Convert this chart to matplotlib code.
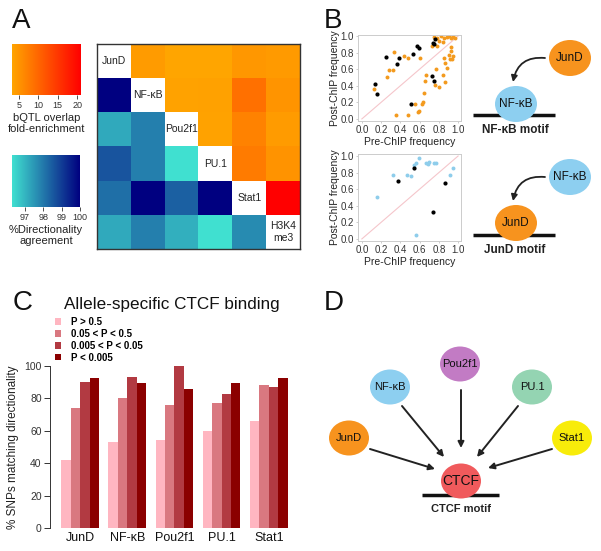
import matplotlib
matplotlib.use('Agg')
import matplotlib.pyplot as plt
import numpy as np
from matplotlib.colors import LinearSegmentedColormap
from matplotlib.patches import Ellipse, FancyArrowPatch

plt.rcParams['font.family'] = ['Liberation Sans', 'DejaVu Sans']

# ---------------- data ----------------
factors = ['JunD', 'NF-κB', 'Pou2f1', 'PU.1', 'Stat1', 'H3K4\nme3']
nan = np.nan
# upper triangle: bQTL overlap fold-enrichment
fold_enrichment = [
    [nan, 4.2, 3.0, 3.2, 4.7, 4.4],
    [nan, nan, 3.5, 3.6, 8.9, 5.0],
    [nan, nan, nan, 3.5, 7.0, 4.2],
    [nan, nan, nan, nan, 7.7, 5.1],
    [nan, nan, nan, nan, nan, 21.0],
    [nan, nan, nan, nan, nan, nan],
]
# lower triangle: % directionality agreement
directionality = [
    [nan, nan, nan, nan, nan, nan],
    [100.0, nan, nan, nan, nan, nan],
    [97.2, 97.9, nan, nan, nan, nan],
    [98.6, 97.9, 96.3, nan, nan, nan],
    [98.15, 100.0, 98.4, 100.0, nan, nan],
    [97.2, 97.9, 97.1, 96.3, 97.7, nan],
]
fold_ticks = [5, 10, 15, 20]
dir_ticks = [97, 98, 99, 100]

# Panel B top: JunD bQTLs in NF-kB motifs (pre vs post ChIP)
jund_pre = [0.75, 0.78, 0.82, 0.85, 0.88, 0.91, 0.93, 0.95, 0.97, 0.80, 0.84, 0.73, 0.78,
            0.93, 0.93, 0.91, 0.95, 0.92, 0.94, 0.85, 0.86,
            0.67, 0.66, 0.77, 0.84, 0.86, 0.80, 0.76, 0.88,
            0.65, 0.64, 0.63, 0.55, 0.59, 0.58, 0.48, 0.35,
            0.33, 0.44, 0.48, 0.60, 0.28, 0.32, 0.26, 0.125]
jund_post = [0.99, 0.98, 1.0, 0.97, 0.99, 1.0, 0.98, 0.99, 0.97, 0.94, 0.93, 0.88, 0.88,
             0.87, 0.82, 0.77, 0.76, 0.72, 0.72, 0.73, 0.67,
             0.53, 0.46, 0.60, 0.53, 0.45, 0.39, 0.41, 0.61,
             0.31, 0.21, 0.18, 0.18, 0.10, 0.08, 0.05, 0.05,
             0.81, 0.76, 0.74, 0.74, 0.59, 0.59, 0.51, 0.36]
jund_sig_pre = [0.135, 0.16, 0.25, 0.37, 0.39, 0.53, 0.57, 0.59, 0.51, 0.74, 0.75, 0.76, 0.73, 0.75]
jund_sig_post = [0.42, 0.30, 0.75, 0.66, 0.73, 0.78, 0.88, 0.86, 0.18, 0.92, 0.90, 0.96, 0.52, 0.46]

# Panel B bottom: NF-kB bQTLs in JunD motifs
nfkb_pre = [0.16, 0.32, 0.47, 0.51, 0.56, 0.54, 0.59, 0.67, 0.69, 0.70, 0.75, 0.77, 0.92, 0.95, 0.56]
nfkb_post = [0.51, 0.77, 0.77, 0.76, 0.91, 0.89, 0.98, 0.92, 0.90, 0.93, 0.92, 0.92, 0.77, 0.85, 0.05]
nfkb_sig_pre = [0.375, 0.545, 0.865, 0.74]
nfkb_sig_post = [0.70, 0.86, 0.68, 0.32]
freq_ticks = [0.0, 0.2, 0.4, 0.6, 0.8, 1.0]

# Panel C
ctcf_factors = ['JunD', 'NF-κB', 'Pou2f1', 'PU.1', 'Stat1']
p_bins = ['P > 0.5', '0.05 < P < 0.5', '0.005 < P < 0.05', 'P < 0.005']
pct_matching = [
    [42.2, 53.3, 54.1, 60.0, 66.1],   # P > 0.5
    [73.9, 80.4, 75.9, 76.9, 88.2],   # 0.05 < P < 0.5
    [90.0, 93.3, 100.0, 82.7, 87.1],  # 0.005 < P < 0.05
    [92.7, 89.6, 86.1, 89.2, 92.7],   # P < 0.005
]
bin_colors = ['#FFB6C1', '#D97880', '#B23A42', '#8B0000']
pct_ticks = [0, 20, 40, 60, 80, 100]

# Panel D
d_factors = ['JunD', 'NF-κB', 'Pou2f1', 'PU.1', 'Stat1']
d_colors = ['#F7931E', '#8DCFF0', '#C27BC4', '#94D4B2', '#F8EC0A']

# ---------------- figure ----------------
W, H = 601, 551
fig = plt.figure(figsize=(W / 100, H / 100), dpi=100)


def rect(x0, y0, x1, y1):
    return [x0 / W, 1 - y1 / H, (x1 - x0) / W, (y1 - y0) / H]


orange_cmap = LinearSegmentedColormap.from_list('orng', ['#FFA500', '#FF0000'])
blue_cmap = LinearSegmentedColormap.from_list('blu', ['#40E0D0', '#000080'])
FV = (3.2, 21.0)
DV = (96.3, 100.0)

# ---- Panel A heatmap
axh = fig.add_axes(rect(97, 44, 300, 249))
fe = np.ma.masked_invalid(np.array(fold_enrichment))
di = np.ma.masked_invalid(np.array(directionality))
axh.imshow(fe, cmap=orange_cmap, vmin=FV[0], vmax=FV[1], aspect='auto', interpolation='nearest')
axh.imshow(di, cmap=blue_cmap, vmin=DV[0], vmax=DV[1], aspect='auto', interpolation='nearest')
for i, name in enumerate(factors):
    axh.text(i, i, name, ha='center', va='center', fontsize=7.5, color='#222222', linespacing=1.3)
axh.set_xticks([]); axh.set_yticks([])
for s in axh.spines.values():
    s.set_color('#333333'); s.set_linewidth(1.0)

# colorbars
def cbar(r, cmap, vr, ticks, label):
    ax = fig.add_axes(rect(*r))
    grad = np.linspace(vr[0], vr[1], 256)[None, :]
    ax.imshow(grad, cmap=cmap, vmin=vr[0], vmax=vr[1], aspect='auto',
              extent=[vr[0], vr[1], 0, 1])
    ax.set_xlim(vr); ax.set_ylim(0, 1)
    ax.set_yticks([])
    ax.set_xticks(ticks)
    ax.tick_params(axis='x', length=3, width=0.6, labelsize=6.5, pad=1.5, colors='#333333')
    for s in ax.spines.values():
        s.set_visible(False)
    ax.set_xlabel(label, fontsize=8, labelpad=2, linespacing=1.15, color='#222222')
    return ax

cbar((12, 44, 81, 95), orange_cmap, FV, fold_ticks, 'bQTL overlap\nfold-enrichment')
cbar((12, 155, 80, 207), blue_cmap, DV, dir_ticks, '%Directionality\nagreement')

# ---- Panel B scatters
def scat(r, pre, post, col, spre, spost, yl):
    ax = fig.add_axes(rect(*r))
    ax.plot([0, 1], [0, 1], color='#F5C6CB', lw=0.8, zorder=1)
    ax.scatter(pre, post, s=8, color=col, linewidths=0, zorder=2)
    ax.scatter(spre, spost, s=9, color='black', linewidths=0, zorder=3)
    ax.set_xlim(-0.04, 1.03); ax.set_ylim(yl)
    ax.set_xticks(freq_ticks); ax.set_yticks(freq_ticks)
    ax.set_xticklabels(['%.1f' % t for t in freq_ticks])
    ax.set_yticklabels(['%.1f' % t for t in freq_ticks])
    ax.tick_params(length=1.5, width=0.5, colors='#BBBBBB', labelcolor='#333333',
                   labelsize=7, pad=1.5)
    for s in ax.spines.values():
        s.set_color('#CCCCCC'); s.set_linewidth(0.7)
    ax.set_xlabel('Pre-ChIP frequency', fontsize=7.5, labelpad=1.5, color='#222222')
    ax.set_ylabel('Post-ChIP frequency', fontsize=7.5, labelpad=0, color='#222222')
    return ax

scat((358, 35, 461, 121), jund_pre, jund_post, '#F39A1E', jund_sig_pre, jund_sig_post, (-0.025, 1.012))
scat((358, 154, 461, 241), nfkb_pre, nfkb_post, '#8ECDEB', nfkb_sig_pre, nfkb_sig_post, (-0.025, 1.024))

# ---- Panel C bars
axb = fig.add_axes(rect(50, 366, 290, 528))
x = np.arange(len(ctcf_factors))
bw = 0.2
for k, (lab, vals, c) in enumerate(zip(p_bins, pct_matching, bin_colors)):
    axb.bar(x + (k - 1.5) * bw, vals, width=bw, color=c, label=lab, linewidth=0)
axb.set_xlim(-0.64, 4.45)
axb.set_ylim(0, 100)
axb.set_yticks(pct_ticks)
axb.set_xticks(x)
axb.set_xticklabels(ctcf_factors, fontsize=9)
axb.tick_params(axis='x', length=0, pad=3, colors='#111111')
axb.tick_params(axis='y', length=4, width=0.7, labelsize=7.5, pad=2, colors='#333333')
for s in ['top', 'right', 'bottom']:
    axb.spines[s].set_visible(False)
axb.spines['left'].set_color('#333333'); axb.spines['left'].set_linewidth(0.7)
axb.set_ylabel('% SNPs matching directionality', fontsize=8.5, labelpad=4, color='#222222')
leg = axb.legend(loc='upper left', bbox_to_anchor=(55 / W, 1 - 317 / H), bbox_transform=fig.transFigure,
                 frameon=False, fontsize=7, handlelength=0.6, handleheight=0.6, handletextpad=1.0,
                 labelspacing=0.2, borderpad=0, borderaxespad=0)
for t in leg.get_texts():
    t.set_fontweight('bold')

# ---- overlay for letters, diagrams, title
ov = fig.add_axes([0, 0, 1, 1])
ov.set_xlim(0, W); ov.set_ylim(H, 0); ov.axis('off')

for lt, (lx, ly) in zip('ABCD', [(21, 21), (333, 21), (23, 303), (334, 303)]):
    ov.text(lx, ly, lt, fontsize=20, ha='center', va='center', color='#111111')

ov.text(172, 305, 'Allele-specific CTCF binding', fontsize=12.3, ha='center', va='center', color='#111111')

def node(cx, cy, label, color, w=42, h=36, fs=8.5):
    ov.add_patch(Ellipse((cx, cy), w, h, facecolor=color, edgecolor='none', zorder=3))
    ov.text(cx, cy, label, ha='center', va='center', fontsize=fs, zorder=4, color='#111111')

def arrow(p0, p1, rad=0.0, lw=1.4):
    ov.add_patch(FancyArrowPatch(p0, p1, arrowstyle='-|>', mutation_scale=9,
                                 connectionstyle='arc3,rad=%g' % rad, color='#222222',
                                 lw=lw, zorder=5, shrinkA=0, shrinkB=0))

# B diagrams
jund_col, nfkb_col = d_colors[0], d_colors[1]
node(570, 58, 'JunD', jund_col)
ov.plot([473, 555], [115, 115], color='#111111', lw=2.5, zorder=2, solid_capstyle='butt')
node(516, 104, 'NF-κB', nfkb_col)
arrow((545, 58), (513, 82), rad=0.45, lw=1.3)
ov.text(515, 130, 'NF-κB motif', fontsize=8.5, fontweight='bold', ha='center', va='center', color='#222222')

node(570, 177, 'NF-κB', nfkb_col)
ov.plot([473, 555], [235, 235], color='#111111', lw=2.5, zorder=2, solid_capstyle='butt')
node(516, 223, 'JunD', jund_col)
arrow((545, 177), (513, 201), rad=0.45, lw=1.3)
ov.text(515, 250, 'JunD motif', fontsize=8.5, fontweight='bold', ha='center', va='center', color='#222222')

# D diagram
d_pos = [(349, 438), (390, 387), (460, 364), (532, 387), (572, 438)]
d_arrows = [((370, 449), (435, 469)), ((402, 406), (444, 457)), ((461, 390), (461, 448)),
            ((518, 406), (477, 457)), ((552, 449), (488, 468))]
for name, c, (cx, cy) in zip(d_factors, d_colors, d_pos):
    node(cx, cy, name, c, w=40, h=35, fs=8)
for p0, p1 in d_arrows:
    arrow(p0, p1)
ov.plot([422, 499], [495, 495], color='#111111', lw=2.5, zorder=2, solid_capstyle='butt')
node(461, 481, 'CTCF', '#F05A5C', w=40, h=35, fs=10)
ov.text(461, 509, 'CTCF motif', fontsize=8, fontweight='bold', ha='center', va='center', color='#222222')

fig.savefig('out.png', dpi=100)
